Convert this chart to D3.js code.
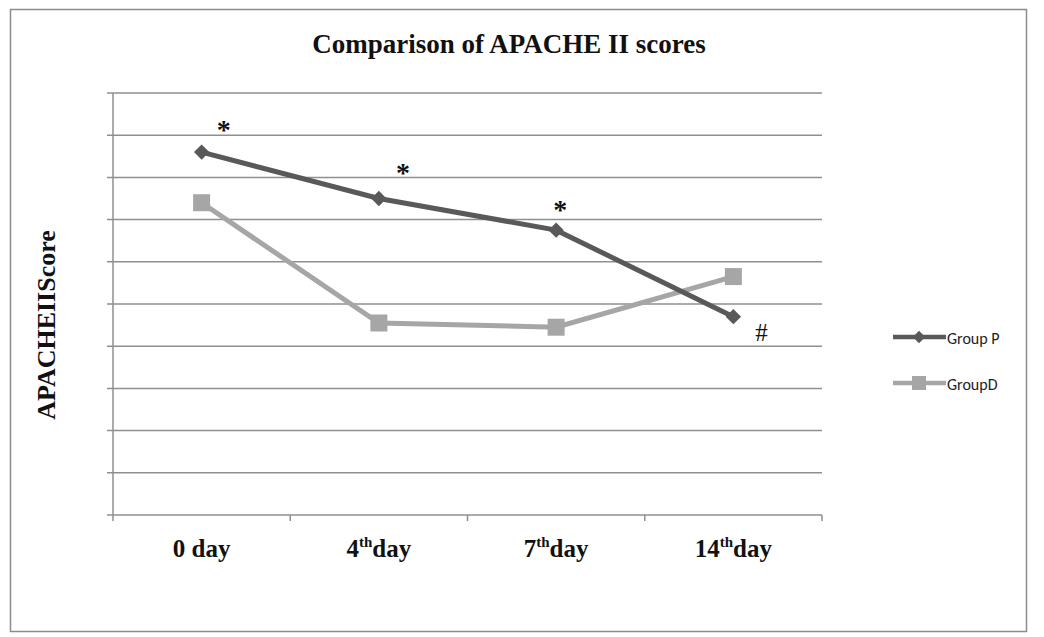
<!DOCTYPE html>
<html><head><meta charset="utf-8">
<script src="https://cdn.jsdelivr.net/npm/d3@7"></script>
<style>body{margin:0;background:#fff;} svg{display:block;}</style>
</head><body>
<svg id="c" width="1044" height="637"></svg>
<script>
const categories = ["0 day", "4th day", "7th day", "14th day"];
const labelMain = ["0 day", "4", "7", "14"];
const labelSup = ["", "th", "th", "th"];
const labelTail = ["", "day", "day", "day"];
const groupP = [17.2, 15.0, 13.5, 9.4];
const groupD = [14.8, 9.1, 8.9, 11.3];
const seriesNames = ["Group P", "GroupD"];
const marks = ["*", "*", "*", "#"];
const yTicks = d3.range(0, 21, 2);

const serif = "Liberation Serif, Times New Roman, serif";
const svg = d3.select("#c");
svg.append("rect").attr("x", 10.5).attr("y", 9.5).attr("width", 1016).attr("height", 622)
  .attr("fill", "#fff").attr("stroke", "#8c8c8c").attr("stroke-width", 1.5);

const pLeft = 113, pRight = 822, pTop = 93, pBottom = 515;
const x = d3.scaleBand().domain(categories).range([pLeft, pRight]);
const y = d3.scaleLinear().domain([0, 20]).range([pBottom, pTop]);
const gridCol = "#8f8f8f";

// gridlines
svg.append("g").selectAll("line").data(yTicks.filter(d => d > 0)).join("line")
  .attr("x1", pLeft - 6).attr("x2", pRight).attr("y1", d => y(d)).attr("y2", d => y(d))
  .attr("stroke", gridCol).attr("stroke-width", 1.5);
svg.append("line").attr("x1", pLeft - 6).attr("x2", pLeft).attr("y1", y(0)).attr("y2", y(0))
  .attr("stroke", gridCol).attr("stroke-width", 1.5);
// y axis
svg.append("line").attr("x1", pLeft).attr("x2", pLeft).attr("y1", pTop).attr("y2", pBottom)
  .attr("stroke", gridCol).attr("stroke-width", 1.5);
// x axis
svg.append("line").attr("x1", pLeft).attr("x2", pRight).attr("y1", pBottom).attr("y2", pBottom)
  .attr("stroke", gridCol).attr("stroke-width", 1.5);
const edges = categories.map(c => x(c)).concat([x(categories[3]) + x.bandwidth()]);
svg.append("g").selectAll("line").data(edges).join("line")
  .attr("x1", d => d).attr("x2", d => d).attr("y1", pBottom).attr("y2", pBottom + 6)
  .attr("stroke", gridCol).attr("stroke-width", 1.5);

// x labels
const cx = c => x(c) + x.bandwidth() / 2;
categories.forEach((c, i) => {
  const t = svg.append("text").attr("x", cx(c)).attr("y", 557).attr("text-anchor", "middle")
    .attr("font-family", serif).attr("font-weight", "bold")
    .attr("font-size", 25).attr("fill", "#111");
  t.append("tspan").text(labelMain[i]);
  if (labelSup[i]) {
    t.append("tspan").attr("font-size", 15).attr("dy", -10).text(labelSup[i]);
    t.append("tspan").attr("dy", 10).text(labelTail[i]);
  }
});

// title
svg.append("text").attr("x", 509).attr("y", 53).attr("text-anchor", "middle")
  .attr("font-family", serif).attr("font-weight", "bold")
  .attr("font-size", 27).attr("fill", "#111").text("Comparison of APACHE II scores");

// y label
svg.append("text").attr("transform", "translate(55,325) rotate(-90)").attr("text-anchor", "middle")
  .attr("font-family", serif).attr("font-weight", "bold")
  .attr("font-size", 26).attr("fill", "#111").text("APACHEIIScore");

const colP = "#595959", colD = "#a6a6a6";
const line = d3.line().x((d, i) => cx(categories[i])).y(d => y(d));

svg.append("path").datum(groupD).attr("d", line).attr("fill", "none")
  .attr("stroke", colD).attr("stroke-width", 5);
svg.append("g").selectAll("rect").data(groupD).join("rect")
  .attr("x", (d, i) => cx(categories[i]) - 8.5).attr("y", d => y(d) - 8.5)
  .attr("width", 17).attr("height", 17).attr("fill", colD);

svg.append("path").datum(groupP).attr("d", line).attr("fill", "none")
  .attr("stroke", colP).attr("stroke-width", 5);
const diamond = d3.symbol().type(d3.symbolDiamond2).size(150);
svg.append("g").selectAll("path").data(groupP).join("path")
  .attr("d", diamond).attr("transform", (d, i) => `translate(${cx(categories[i])},${y(d)})`)
  .attr("fill", colP);

// annotations
const markOffsets = [[22, -29], [24, -33], [4, -27], [28, 24]];
svg.append("g").selectAll("text").data(marks).join("text")
  .attr("x", (d, i) => cx(categories[i]) + markOffsets[i][0])
  .attr("y", (d, i) => y(groupP[i]) + markOffsets[i][1] + (d === "*" ? 16 : 0))
  .attr("text-anchor", "middle")
  .attr("font-family", serif).attr("font-weight", d => d === "*" ? "bold" : "normal")
  .attr("font-size", d => d === "*" ? 28 : 25).attr("fill", "#111").text(d => d);

// legend
const leg = svg.append("g");
[[colP, "diamond"], [colD, "square"]].forEach((s, i) => {
  const ly = 337 + i * 46;
  leg.append("line").attr("x1", 893).attr("x2", 946).attr("y1", ly).attr("y2", ly)
    .attr("stroke", s[0]).attr("stroke-width", 4.5);
  if (s[1] === "diamond") {
    leg.append("path").attr("d", d3.symbol().type(d3.symbolDiamond2).size(100))
      .attr("transform", `translate(919,${ly})`).attr("fill", s[0]);
  } else {
    leg.append("rect").attr("x", 912).attr("y", ly - 7).attr("width", 14).attr("height", 14).attr("fill", s[0]);
  }
  leg.append("text").attr("x", 947).attr("y", ly + 7)
    .attr("font-family", "Carlito, Calibri, Open Sans, Liberation Sans, sans-serif")
    .attr("font-size", 16).attr("fill", "#222").text(seriesNames[i]);
});
</script>
</body></html>
